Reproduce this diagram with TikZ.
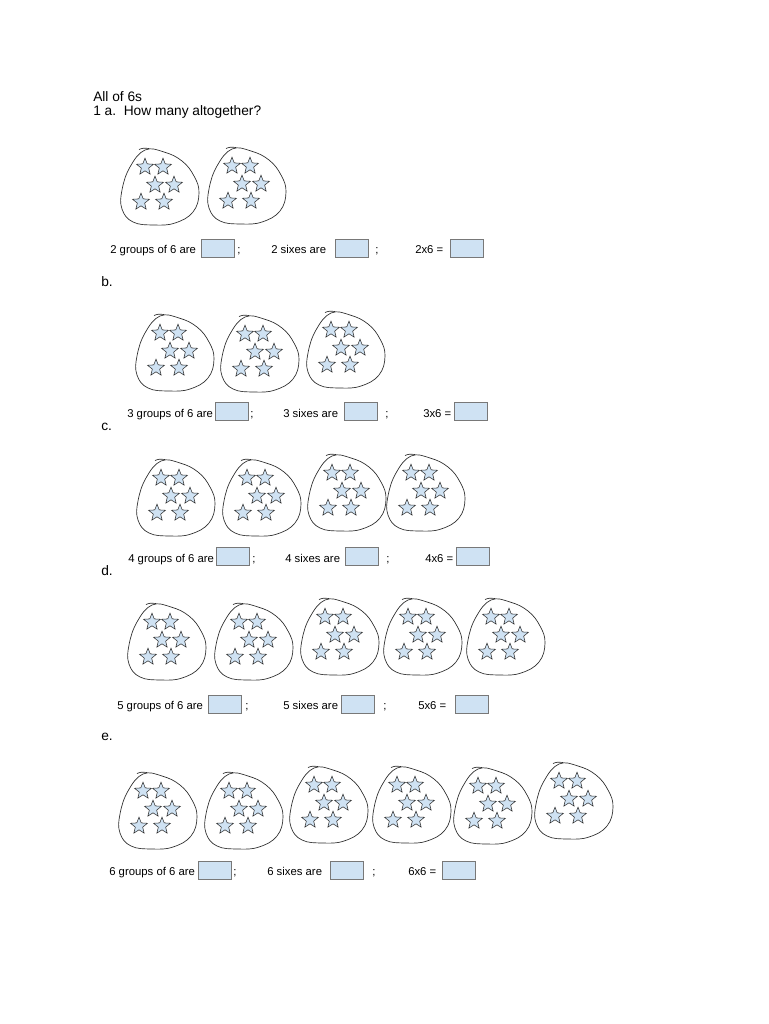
\documentclass[tikz,border=0pt]{standalone}
\usepackage{fontspec}
\setmainfont{Liberation Sans}
\definecolor{starblue}{RGB}{207, 226, 243}
\definecolor{boxgray}{RGB}{120, 120, 120}
\definecolor{inkgray}{RGB}{45, 45, 45}
\usetikzlibrary{shapes.geometric}

\begin{document}
\begin{tikzpicture}[
  x=0.75pt, y=-0.75pt,
  head/.style={anchor=base west, inner sep=0, font=\fontsize{10.3}{12}\selectfont},
  lbl/.style={anchor=base west, inner sep=0, font=\fontsize{8.5}{10}\selectfont},
  ansbox/.style={draw=boxgray, fill=starblue, line width=0.5pt, minimum width=24.5pt,
                 minimum height=13.5pt, inner sep=0},
  sixstar/.style={star, star points=5, star point ratio=2.3, minimum size=13.2pt,
                  inner sep=0, draw=inkgray, fill=starblue, line width=0.4pt},
  blobline/.style={draw=inkgray, line width=0.5pt},
  grp/.pic={
    \draw[blobline] plot[smooth cycle, tension=0.7] coordinates {(-15,-37) (4,-35) (22,-26)
      (34,-11) (39,6) (33,25) (15,36) (-6,38) (-27,35) (-38,22) (-38,3) (-30,-20)};
    \draw[blobline] (-21,-37.5) .. controls (-17,-39) .. (-11,-38.5);
    \node[sixstar] (s1) at (-15,-20) {};
    \node[sixstar] (s2) at (3,-20) {};
    \node[sixstar] (s3) at (-5,-2) {};
    \node[sixstar] (s4) at (14,-2) {};
    \node[sixstar] (s5) at (-19,15) {};
    \node[sixstar] (s6) at (4,15) {};
  },
]
\fill[white] (0,0) rectangle (768,1024);
\useasboundingbox (0,0) rectangle (768,1024);

% heading
\node[head] (title) at (93,101) {All of 6s};
\node[head] (qa) at (93,115) {1 a.\ \ How many altogether?};

% 1 a
\pic (ga1) at (160,187) {grp};
\pic (ga2) at (247,186) {grp};
\node[lbl] (ta1) at (110,253) {2 groups of 6 are};
\node[ansbox] (ba1) at (217.5,248) {};
\node[lbl] (ca1) at (237,253) {;};
\node[lbl] (ta2) at (271,253) {2 sixes are};
\node[ansbox] (ba2) at (352,248) {};
\node[lbl] (ca2) at (375,253) {;};
\node[lbl] (ta3) at (415,253) {2x6 =};
\node[ansbox] (ba3) at (467,248) {};

% b
\node[head] (qb) at (101,286) {b.};
\pic (gb1) at (175,353) {grp};
\pic (gb2) at (260,354) {grp};
\pic (gb3) at (346,350) {grp};
\node[lbl] (tb1) at (127,417) {3 groups of 6 are};
\node[ansbox] (bb1) at (231.5,411.5) {};
\node[lbl] (cb1) at (250,417) {;};
\node[lbl] (tb2) at (283,417) {3 sixes are};
\node[ansbox] (bb2) at (360.5,411.5) {};
\node[lbl] (cb2) at (385,417) {;};
\node[lbl] (tb3) at (423,417) {3x6 =};
\node[ansbox] (bb3) at (471,411.5) {};

% c
\node[head] (qc) at (101,430) {c.};
\pic (gc1) at (176,498) {grp};
\pic (gc2) at (262,498) {grp};
\pic (gc3) at (347,493) {grp};
\pic (gc4) at (426,493) {grp};
\node[lbl] (tc1) at (128,562) {4 groups of 6 are};
\node[ansbox] (bc1) at (233,556.5) {};
\node[lbl] (cc1) at (252,562) {;};
\node[lbl] (tc2) at (285,562) {4 sixes are};
\node[ansbox] (bc2) at (361.5,556.5) {};
\node[lbl] (cc2) at (386,562) {;};
\node[lbl] (tc3) at (425,562) {4x6 =};
\node[ansbox] (bc3) at (472.5,556.5) {};

% d
\node[head] (qd) at (101,575) {d.};
\pic (gd1) at (167,642) {grp};
\pic (gd2) at (254,642) {grp};
\pic (gd3) at (340,637) {grp};
\pic (gd4) at (423,637) {grp};
\pic (gd5) at (506,637) {grp};
\node[lbl] (td1) at (117,709) {5 groups of 6 are};
\node[ansbox] (bd1) at (224.5,704) {};
\node[lbl] (cd1) at (245,709) {;};
\node[lbl] (td2) at (283,709) {5 sixes are};
\node[ansbox] (bd2) at (357.5,704) {};
\node[lbl] (cd2) at (383,709) {;};
\node[lbl] (td3) at (418,709) {5x6 =};
\node[ansbox] (bd3) at (471.5,704) {};

% e
\node[head] (qe) at (101,740) {e.};
\pic (ge1) at (158,811) {grp};
\pic (ge2) at (244,811) {grp};
\pic (ge3) at (329,805) {grp};
\pic (ge4) at (412,805) {grp};
\pic (ge5) at (493,806) {grp};
\pic (ge6) at (574,801) {grp};
\node[lbl] (te1) at (109,875) {6 groups of 6 are};
\node[ansbox] (be1) at (215,870) {};
\node[lbl] (ce1) at (233,875) {;};
\node[lbl] (te2) at (267,875) {6 sixes are};
\node[ansbox] (be2) at (347,870) {};
\node[lbl] (ce2) at (372,875) {;};
\node[lbl] (te3) at (408,875) {6x6 =};
\node[ansbox] (be3) at (459,870) {};
\end{tikzpicture}
\end{document}
